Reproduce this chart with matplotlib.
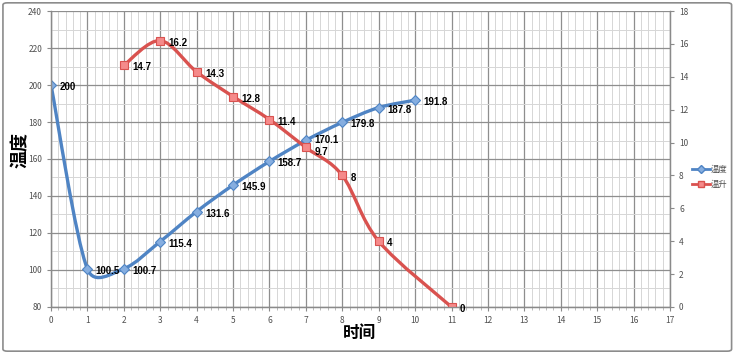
import matplotlib
matplotlib.use("Agg")
import numpy as np
import matplotlib.pyplot as plt
from matplotlib.path import Path
from matplotlib.patches import PathPatch, FancyBboxPatch
from matplotlib.lines import Line2D
from matplotlib.ticker import MultipleLocator

plt.rcParams['font.family'] = ['Noto Sans CJK SC', 'DejaVu Sans']

# data
time_temp = [0, 1, 2, 3, 4, 5, 6, 7, 8, 9, 10]
temp = [200, 100.5, 100.7, 115.4, 131.6, 145.9, 158.7, 170.1, 179.8, 187.8, 191.8]
time_rise = [2, 3, 4, 5, 6, 7, 8, 9, 11]
rise = [14.7, 16.2, 14.3, 12.8, 11.4, 9.7, 8, 4, 0]
temp_labels = ["200", "100.5", "100.7", "115.4", "131.6", "145.9", "158.7",
               "170.1", "179.8", "187.8", "191.8"]
rise_labels = ["14.7", "16.2", "14.3", "12.8", "11.4", "9.7", "8", "4", "0"]

BLUE = "#4F84C4"
BLUE_FILL = "#86AEE0"
RED = "#D9524F"
RED_FILL = "#F58A8A"
LABEL_FONT = ["Liberation Sans", "DejaVu Sans"]


def smooth_path(a, xs, ys):
    # Excel-like smoothed line: cubic bezier through the points, worked out in pixel space,
    # handle length capped to half the segment
    tr = a.transData
    pts = tr.transform(np.column_stack([xs, ys]))
    n = len(pts)
    verts = [pts[0]]
    codes = [Path.MOVETO]
    for i in range(n - 1):
        p0 = pts[i - 1] if i > 0 else pts[i]
        p1 = pts[i]
        p2 = pts[i + 1]
        p3 = pts[i + 2] if i + 2 < n else pts[i + 1]
        seg = np.hypot(*(p2 - p1))
        t1 = (p2 - p0) / 6
        t2 = (p3 - p1) / 6
        for t in (t1, t2):
            m = np.hypot(*t)
            if m > 0.5 * seg:
                t *= 0.5 * seg / m
        verts += [p1 + t1, p2 - t2, p2]
        codes += [Path.CURVE4] * 3
    verts = tr.inverted().transform(np.array(verts))
    return Path(verts, codes)


fig = plt.figure(figsize=(7.36, 3.54), dpi=100)
fig.patches.append(FancyBboxPatch((0.004, 0.008), 0.99, 0.984, boxstyle="round,pad=0,rounding_size=0.006",
                                  transform=fig.transFigure, fill=False, edgecolor="#8C8C8C", lw=1.2))
ax = fig.add_axes([0.0693, 0.1328, 0.8410, 0.8361])
ax2 = ax.twinx()

ax.set_xlim(0, 17)
ax.set_ylim(80, 240)
ax2.set_ylim(0, 18)
ax.xaxis.set_major_locator(MultipleLocator(1))
ax.xaxis.set_minor_locator(MultipleLocator(0.2))
ax.yaxis.set_major_locator(MultipleLocator(20))
ax.yaxis.set_minor_locator(MultipleLocator(10))
ax2.yaxis.set_major_locator(MultipleLocator(2))

ax.grid(which="major", color="#8E8E8E", lw=0.9)
ax.grid(which="minor", color="#D6D6D6", lw=0.7)
ax.set_axisbelow(True)

for a in (ax, ax2):
    for s in a.spines.values():
        s.set_color("#8A8A8A")
        s.set_linewidth(0.9)
    a.spines["top"].set_visible(False)
ax.tick_params(which="major", labelsize=6, labelcolor="#505050", color="#8A8A8A", length=3, width=0.8)
ax.tick_params(which="minor", color="#B0B0B0", length=2, width=0.6)
ax.tick_params(axis="y", which="minor", length=0)
ax2.tick_params(labelsize=6, labelcolor="#505050", color="#8A8A8A", length=3, width=0.8)

# temperature curve
ax.add_patch(PathPatch(smooth_path(ax, time_temp, temp), fill=False, edgecolor=BLUE, lw=2.4,
                       capstyle="round", joinstyle="round"))
ax.plot(time_temp, temp, ls="none", marker="D", ms=5, mfc=BLUE_FILL, mec=BLUE, mew=0.8)
for x, y, t in zip(time_temp, temp, temp_labels):
    dy = 0 if t == "170.1" else -1.5
    ax.annotate(t, (x, y), xytext=(6, dy), textcoords="offset points", ha="left", va="center",
                fontsize=7, fontweight="bold", family=LABEL_FONT)

# temperature rise curve
ax2.add_patch(PathPatch(smooth_path(ax2, time_rise, rise), fill=False, edgecolor=RED, lw=2.4,
                        capstyle="round", joinstyle="round"))
ax2.plot(time_rise, rise, ls="none", marker="s", ms=5.5, mfc=RED_FILL, mec=RED, mew=0.8)
for x, y, t in zip(time_rise, rise, rise_labels):
    dy = -3 if t == "9.7" else -1.5
    ax2.annotate(t, (x, y), xytext=(6, dy), textcoords="offset points", ha="left", va="center",
                 fontsize=7, fontweight="bold", family=LABEL_FONT)

fig.text(20 / 736, 1 - 150 / 354, "温度", rotation=90, ha="center", va="center", fontsize=13, fontweight="bold")
fig.text(360 / 736, 1 - 333 / 354, "时间", ha="center", va="center", fontsize=12, fontweight="bold")

handles = [Line2D([], [], color=BLUE, lw=2, marker="D", ms=4, mfc=BLUE_FILL, mec=BLUE),
           Line2D([], [], color=RED, lw=2, marker="s", ms=4, mfc=RED_FILL, mec=RED)]
fig.legend(handles, ["温度", "温升"], loc="center left", bbox_to_anchor=(684 / 736, 1 - 177 / 354),
           frameon=False, fontsize=6, handlelength=2.2, handletextpad=0.1, labelspacing=0.7,
           labelcolor="#505050")

fig.savefig("out.png", dpi=100)
